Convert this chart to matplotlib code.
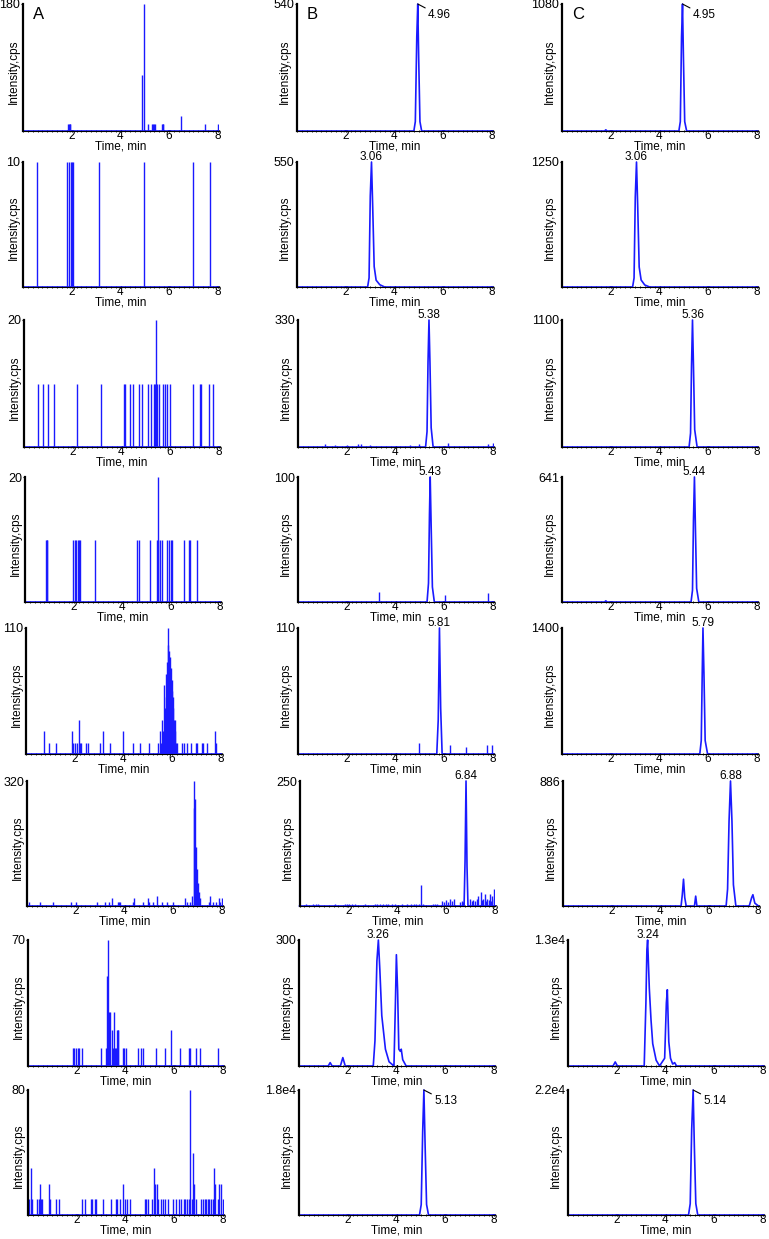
import matplotlib
matplotlib.use("Agg")
import matplotlib.pyplot as plt
from matplotlib.ticker import FixedLocator, FixedFormatter, AutoMinorLocator

plt.rcParams['font.family'] = ['Liberation Sans', 'DejaVu Sans']

BLUE = '#1a1aff'
XMAX = 8.03

# ---------------- column A: spiky blank traces (spike times / heights) -------------
a1_t = [1.85, 1.88, 1.91, 1.94, 4.90, 4.95, 5.14, 5.30, 5.34, 5.38, 5.42, 5.69, 5.73, 5.77, 6.51, 7.46, 8.0]
a1_h = [10, 10, 10, 10, 80, 180, 10, 10, 10, 10, 10, 10, 10, 10, 21, 10, 10]

a2_t = [0.59, 1.82, 1.88, 1.96, 2.01, 2.05, 3.12, 4.99, 6.99, 7.70]
a2_h = [10, 10, 10, 10, 10, 10, 10, 10, 10, 10]

a3_t = [0.56, 0.79, 1.0, 1.23, 2.16, 3.15, 4.11, 4.15, 4.36, 4.47, 4.74, 4.86, 5.11, 5.21,
        5.36, 5.40, 5.44, 5.48, 5.53, 5.70, 5.81, 5.89, 6.01, 6.93, 7.23, 7.29, 7.60, 7.78]
a3_h = [10, 10, 10, 10, 10, 10, 10, 10, 10, 10, 10, 10, 10, 10,
        10, 10, 20, 10, 10, 10, 10, 10, 10, 10, 10, 10, 10, 10]

a4_t = [0.86, 0.89, 0.92, 1.99, 2.04, 2.11, 2.18, 2.23, 2.27, 2.86, 4.60, 4.67, 5.12, 5.41,
        5.45, 5.48, 5.53, 5.63, 5.84, 5.93, 5.99, 6.03, 6.52, 6.73, 6.77, 7.08]
a4_h = [10, 10, 10, 10, 10, 10, 10, 10, 10, 10, 10, 10, 10, 10,
        10, 20, 10, 10, 10, 10, 10, 10, 10, 10, 10, 10]

a5_t = [0.73, 0.96, 1.24, 1.88, 1.95, 2.02, 2.08, 2.16, 2.20, 2.24, 2.47, 2.53, 3.05, 3.15,
        3.46, 3.99, 4.40, 4.70, 5.07, 5.43, 5.50, 5.55, 5.59, 5.62, 5.66, 5.69, 5.73, 5.76,
        5.80, 5.82, 5.84, 5.86, 5.88, 5.91, 5.94, 5.96, 5.98, 6.00, 6.02, 6.05, 6.08, 6.11,
        6.14, 6.18, 6.21, 6.42, 6.49, 6.63, 6.79, 6.97, 7.04, 7.21, 7.29, 7.45, 7.77, 7.81]
a5_h = [20, 10, 10, 20, 10, 10, 10, 30, 10, 10, 10, 10, 10, 20,
        10, 20, 10, 10, 10, 10, 20, 10, 30, 20, 60, 40, 70, 50,
        80, 110, 95, 70, 90, 85, 60, 75, 55, 65, 40, 50, 30, 20,
        30, 10, 10, 10, 10, 10, 10, 10, 10, 10, 10, 10, 20, 10]

a6_t = [0.07, 0.55, 1.05, 1.82, 2.02, 2.87, 3.21, 3.35, 3.49, 3.72, 3.77, 3.83, 4.35, 4.40,
        4.76, 4.97, 5.02, 5.16, 5.36, 5.53, 5.75, 5.98, 6.50, 6.57, 6.70, 6.77, 6.84, 6.87,
        6.91, 6.95, 6.98, 7.02, 7.05, 7.11, 7.46, 7.52, 7.66, 7.77, 7.87, 7.93, 8.0]
a6_h = [10, 10, 10, 10, 10, 10, 10, 10, 20, 10, 10, 10, 10, 20,
        10, 20, 10, 10, 25, 10, 10, 10, 20, 10, 10, 25, 320, 250,
        273, 150, 95, 60, 36, 20, 10, 25, 10, 10, 20, 10, 20]

a7_t = [1.85, 1.89, 1.96, 2.06, 2.10, 2.23, 2.99, 3.19, 3.24, 3.30, 3.34, 3.38, 3.43, 3.49,
        3.52, 3.57, 3.61, 3.66, 3.68, 3.71, 3.90, 3.96, 4.01, 4.51, 4.65, 4.72, 5.24, 5.61,
        5.86, 6.23, 6.62, 6.65, 6.88, 7.06, 7.82]
a7_h = [10, 10, 10, 10, 10, 10, 10, 10, 50, 70, 30, 30, 20, 10,
        30, 10, 10, 20, 20, 20, 10, 10, 10, 10, 10, 10, 10, 10,
        20, 10, 10, 10, 10, 10, 10]

a8_t = [0.05, 0.12, 0.16, 0.37, 0.44, 0.48, 0.54, 0.58, 0.85, 0.92, 1.13, 1.26, 2.23, 2.36,
        2.60, 2.64, 2.74, 2.80, 3.09, 3.40, 3.60, 3.67, 3.78, 3.89, 3.97, 4.05, 4.19, 4.80,
        4.85, 4.91, 5.11, 5.18, 5.22, 5.28, 5.32, 5.46, 5.53, 5.64, 5.73, 5.97, 6.08, 6.21,
        6.28, 6.42, 6.46, 6.53, 6.60, 6.65, 6.72, 6.78, 6.83, 6.90, 7.11, 7.18, 7.27, 7.31,
        7.38, 7.45, 7.52, 7.59, 7.66, 7.70, 7.79, 7.86, 7.93, 8.0]
a8_h = [10, 30, 10, 10, 10, 20, 10, 10, 20, 10, 10, 10, 10, 10,
        10, 10, 10, 10, 10, 10, 10, 10, 10, 20, 10, 10, 10, 10,
        10, 10, 10, 30, 20, 20, 10, 10, 10, 10, 10, 10, 10, 10,
        10, 10, 10, 10, 10, 80, 10, 40, 20, 10, 10, 10, 10, 10,
        10, 10, 10, 10, 30, 20, 10, 20, 20, 10]

# ---------------- column B: spiked samples (peak trace points + noise spikes) ------
b1_t = [0, 4.80, 4.86, 4.92, 4.96, 5.00, 5.05, 5.12, 8.03]
b1_y = [0, 0, 40, 400, 540, 300, 40, 0, 0]
b1_nt, b1_nh = [], []
b2_t = [0, 2.90, 2.96, 3.01, 3.06, 3.11, 3.17, 3.25, 3.40, 3.60, 8.03]
b2_y = [0, 0, 40, 400, 550, 350, 90, 30, 10, 0, 0]
b2_nt, b2_nh = [], []
b3_t = [0, 5.24, 5.30, 5.34, 5.38, 5.42, 5.47, 5.55, 8.03]
b3_y = [0, 0, 40, 220, 330, 220, 50, 0, 0]
b3_nt = [1.1, 1.5, 2.0, 2.45, 2.6, 2.95, 4.6, 4.95, 6.15, 7.8, 8.0]
b3_nh = [8, 5, 5, 8, 8, 5, 5, 8, 10, 8, 10]
b4_t = [0, 5.30, 5.36, 5.40, 5.43, 5.47, 5.52, 5.60, 8.03]
b4_y = [0, 0, 15, 70, 100, 60, 12, 0, 0]
b4_nt = [3.32, 6.03, 7.8]
b4_nh = [8, 6, 7]
b5_t = [0, 5.70, 5.76, 5.81, 5.86, 5.92, 8.03]
b5_y = [0, 0, 30, 110, 40, 0, 0]
b5_nt = [4.96, 6.25, 6.92, 7.77, 7.97]
b5_nh = [10, 8, 6, 8, 8]
b6_t = [0, 6.76, 6.80, 6.84, 6.88, 6.92, 8.03]
b6_y = [0, 0, 90, 250, 80, 0, 0]
b6_nt = [0.27, 0.57, 0.67, 0.78, 1.46, 1.87, 1.95, 2.05, 2.15, 2.28, 2.69, 3.10, 3.20,
         3.30, 3.42, 3.55, 3.65, 3.79, 3.93, 4.20, 4.40, 4.60, 4.70, 4.80, 4.90, 4.98,
         5.09, 5.50, 5.57, 5.64, 5.84, 5.92, 6.00, 6.08, 6.17, 6.25, 6.33, 6.60, 6.67,
         6.73, 7.00, 7.07, 7.14, 7.20, 7.28, 7.35, 7.44, 7.50, 7.55, 7.62, 7.68, 7.72,
         7.78, 7.82, 7.88, 7.92, 7.97, 8.0]
b6_nh = [5, 5, 5, 5, 5, 5, 5, 5, 5, 5, 5, 5, 5,
         5, 5, 5, 5, 5, 5, 5, 5, 5, 5, 5, 5, 42,
         5, 5, 5, 5, 10, 8, 12, 8, 15, 10, 15, 8, 10,
         8, 15, 10, 12, 10, 15, 20, 28, 12, 15, 25, 10, 15,
         12, 25, 10, 20, 15, 35]
b7_t = [0, 1.20, 1.28, 1.36, 1.70, 1.80, 1.90, 3.05, 3.12, 3.20, 3.26, 3.32, 3.40, 3.55,
        3.70, 3.90, 3.96, 4.0, 4.05, 4.10, 4.16, 4.20, 4.26, 4.40, 8.03]
b7_y = [0, 0, 8, 0, 0, 20, 0, 0, 60, 250, 300, 230, 120, 40,
        10, 0, 150, 265, 180, 40, 35, 40, 15, 0, 0]
b7_nt, b7_nh = [], []
b8_t = [0, 4.95, 5.02, 5.08, 5.13, 5.18, 5.24, 5.32, 8.03]
b8_y = [0, 0, 1500, 12000, 18000, 10000, 1500, 0, 0]
b8_nt, b8_nh = [], []

# ---------------- column C: standards ---------------------------------------------
c1_t = [0, 1.75, 1.80, 1.85, 4.80, 4.86, 4.91, 4.95, 4.99, 5.04, 5.12, 8.03]
c1_y = [0, 0, 10, 0, 0, 80, 800, 1080, 600, 80, 0, 0]
c2_t = [0, 2.90, 2.96, 3.01, 3.06, 3.11, 3.17, 3.25, 3.40, 3.60, 8.03]
c2_y = [0, 0, 90, 900, 1250, 800, 200, 70, 20, 0, 0]
c3_t = [0, 5.22, 5.28, 5.32, 5.36, 5.40, 5.45, 5.55, 8.03]
c3_y = [0, 0, 120, 700, 1100, 700, 150, 0, 0]
c4_t = [0, 1.75, 1.80, 1.85, 5.30, 5.36, 5.40, 5.44, 5.48, 5.53, 5.62, 8.03]
c4_y = [0, 0, 6, 0, 0, 60, 420, 641, 380, 70, 0, 0]
c5_t = [0, 5.66, 5.72, 5.76, 5.79, 5.83, 5.88, 5.98, 8.03]
c5_y = [0, 0, 150, 900, 1400, 900, 150, 0, 0]
c6_t = [0, 4.85, 4.90, 4.95, 5.00, 5.06, 5.40, 5.45, 5.50, 6.70, 6.76, 6.82, 6.88, 6.94,
        7.00, 7.10, 7.65, 7.75, 7.80, 7.88, 8.03]
c6_y = [0, 0, 80, 190, 60, 0, 0, 70, 0, 0, 120, 600, 886, 600, 150, 0, 0, 60, 80, 20, 0]
c7_t = [0, 1.85, 1.94, 2.03, 3.13, 3.20, 3.24, 3.27, 3.34, 3.41, 3.48, 3.62, 3.76, 3.97,
        4.04, 4.08, 4.14, 4.21, 4.30, 4.38, 4.46, 8.03]
c7_y = [0, 0, 420, 0, 0, 6500, 12000, 13000, 8000, 4750, 2300, 600, 0, 800,
        6500, 7870, 2500, 800, 200, 350, 0, 0]
c8_t = [0, 4.95, 5.02, 5.08, 5.14, 5.19, 5.25, 5.33, 8.03]
c8_y = [0, 0, 2000, 15000, 22000, 12000, 2000, 0, 0]

# axis tops (single labelled tick) and peak labels
a_max = [180, 10, 20, 20, 110, 320, 70, 80]
b_max = [540, 550, 330, 100, 110, 250, 300, 18000]
c_max = [1080, 1250, 1100, 641, 1400, 886, 13000, 22000]
b_ticklab = ['540', '550', '330', '100', '110', '250', '300', '1.8e4']
c_ticklab = ['1080', '1250', '1100', '641', '1400', '886', '1.3e4', '2.2e4']
b_peak = ['4.96', '3.06', '5.38', '5.43', '5.81', '6.84', '3.26', '5.13']
c_peak = ['4.95', '3.06', '5.36', '5.44', '5.79', '6.88', '3.24', '5.14']
leader_rows = [0, 7]   # rows whose label sits to the right with a leader line

A_spikes = [(a1_t, a1_h), (a2_t, a2_h), (a3_t, a3_h), (a4_t, a4_h),
            (a5_t, a5_h), (a6_t, a6_h), (a7_t, a7_h), (a8_t, a8_h)]
B_traces = [(b1_t, b1_y), (b2_t, b2_y), (b3_t, b3_y), (b4_t, b4_y),
            (b5_t, b5_y), (b6_t, b6_y), (b7_t, b7_y), (b8_t, b8_y)]
B_noise = [(b1_nt, b1_nh), (b2_nt, b2_nh), (b3_nt, b3_nh), (b4_nt, b4_nh),
           (b5_nt, b5_nh), (b6_nt, b6_nh), (b7_nt, b7_nh), (b8_nt, b8_nh)]
C_traces = [(c1_t, c1_y), (c2_t, c2_y), (c3_t, c3_y), (c4_t, c4_y),
            (c5_t, c5_y), (c6_t, c6_y), (c7_t, c7_y), (c8_t, c8_y)]
C_noise = [([], [])] * 8

# ---------------- layout (pixels) -------------------------------------------------
W, H = 769, 1239
row_top = [4, 162, 320, 477, 628, 781, 940, 1090]
row_bot = [131, 287, 447, 602, 754, 906, 1066, 1215]
a_left = [23, 23, 24, 25, 26, 27, 28, 28]
b_left = [297, 297, 298, 298, 298, 299.5, 299, 299]
c_left = [562, 562, 562, 562, 562, 563, 568, 568]
PANEL_W = 195.5

fig = plt.figure(figsize=(W / 100, H / 100), dpi=100)


def make_ax(x0, y0, y1, ymax, ylab):
    hpx = y1 - y0
    ax = fig.add_axes([x0 / W, 1 - y1 / H, PANEL_W / W, hpx / H])
    ax.set_xlim(0, XMAX)
    ax.set_ylim(0, ymax)
    for s in ['top', 'right']:
        ax.spines[s].set_visible(False)
    ax.spines['left'].set_linewidth(1.6)
    ax.spines['bottom'].set_linewidth(0.8)
    ax.xaxis.set_major_locator(FixedLocator([2, 4, 6, 8]))
    ax.xaxis.set_minor_locator(AutoMinorLocator(10))
    ax.yaxis.set_major_locator(FixedLocator([ymax]))
    ax.yaxis.set_major_formatter(FixedFormatter([ylab]))
    ax.yaxis.set_minor_locator(AutoMinorLocator(20))
    ax.tick_params(axis='x', which='major', length=1, width=0.8, labelsize=8.5, pad=-1.5)
    ax.tick_params(axis='y', which='major', length=1.5, width=0.8, labelsize=9, pad=0.5)
    ax.tick_params(which='minor', length=1.5, width=0.6, direction='inout')
    ax.set_xlabel('Time, min', fontsize=8.5)
    ax.xaxis.set_label_coords(0.5, -9.5 / hpx)
    ax.set_ylabel('Intensity,cps', fontsize=8.5)
    ax.yaxis.set_label_coords(-0.03 if x0 > 100 else -0.015, 0.47)
    return ax


for i in range(8):
    # column A
    ax = make_ax(a_left[i], row_top[i], row_bot[i], a_max[i], str(a_max[i]))
    ts, hs = A_spikes[i]
    ax.axhline(0, color=BLUE, lw=1.2)
    ax.vlines(ts, 0, hs, color=BLUE, lw=1.0)
    if i == 0:
        ax.text(0.05, 0.98, 'A', transform=ax.transAxes, fontsize=12, va='top')

    # columns B and C
    for lefts, traces, noise, ymaxs, tls, peaks, letter in [
            (b_left, B_traces, B_noise, b_max, b_ticklab, b_peak, 'B'),
            (c_left, C_traces, C_noise, c_max, c_ticklab, c_peak, 'C')]:
        ax = make_ax(lefts[i], row_top[i], row_bot[i], ymaxs[i], tls[i])
        t, y = traces[i]
        ax.plot(t, y, color=BLUE, lw=1.2, clip_on=False)
        nt, nh = noise[i]
        if nt:
            ax.vlines(nt, 0, nh, color=BLUE, lw=1.0)
        ymax = ymaxs[i]
        tpk = t[y.index(max(y))]
        if i in leader_rows:
            ax.annotate(peaks[i], xy=(tpk, ymax), xytext=(tpk + 0.42, ymax * 0.91),
                        fontsize=8.5, va='center', ha='left',
                        arrowprops=dict(arrowstyle='-', color='black', lw=0.8,
                                        shrinkA=0, shrinkB=0))
        else:
            ax.annotate(peaks[i], xy=(tpk, ymax), xytext=(0, -0.5),
                        textcoords='offset points', fontsize=8.5,
                        ha='center', va='bottom', annotation_clip=False)
        if i == 0:
            ax.text(0.05, 0.98, letter, transform=ax.transAxes, fontsize=12, va='top')

fig.savefig('out.png', dpi=100)
